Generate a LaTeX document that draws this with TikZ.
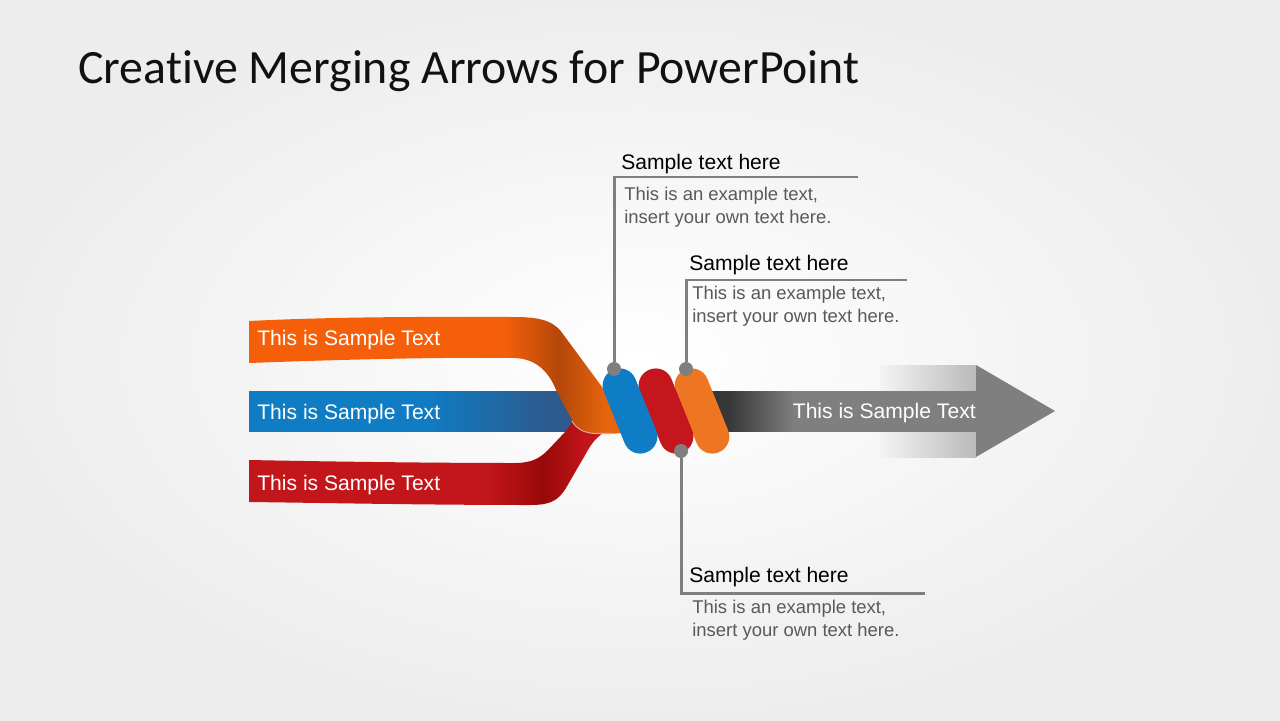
\documentclass[tikz,border=0pt]{standalone}
\usepackage{fontspec}
\setmainfont{Liberation Sans}
\newfontfamily\titlefont[Ligatures=NoCommon]{Carlito}
\usetikzlibrary{shapes.geometric, arrows}

\definecolor{oBand}{HTML}{F55F0A}
\definecolor{oDark}{HTML}{B4470A}
\definecolor{oMid}{HTML}{E5640D}
\definecolor{bBand}{HTML}{0F7CC4}
\definecolor{bDark}{HTML}{2D5A8C}
\definecolor{rBand}{HTML}{C3161A}
\definecolor{rDark}{HTML}{980909}
\definecolor{pillBlue}{HTML}{0E7DC6}
\definecolor{pillRed}{HTML}{C4161C}
\definecolor{pillOrange}{HTML}{EE7623}
\definecolor{arrowGray}{HTML}{7F7F7F}
\definecolor{arrowDark}{HTML}{363636}
\definecolor{wingLight}{HTML}{F4F4F4}
\definecolor{wingGray}{HTML}{BABABA}
\definecolor{lineGray}{HTML}{7F7F7F}
\definecolor{bodyGray}{HTML}{595959}
\definecolor{titleBlack}{HTML}{111111}
\definecolor{edgePink}{HTML}{E7A49A}

\pgfdeclarehorizontalshading{orangeribbon}{100bp}{color(0bp)=(oBand); color(25bp)=(oBand); color(58bp)=(oBand); color(65bp)=(oDark); color(71bp)=(oMid); color(100bp)=(oMid)}
\pgfdeclarehorizontalshading{blueribbon}{100bp}{color(0bp)=(bBand); color(25bp)=(bBand); color(50bp)=(bBand); color(68bp)=(bDark); color(100bp)=(bDark)}
\pgfdeclarehorizontalshading{redribbon}{100bp}{color(0bp)=(rBand); color(25bp)=(rBand); color(58bp)=(rBand); color(66bp)=(rDark); color(72bp)=(rBand); color(100bp)=(rBand)}
\pgfdeclarehorizontalshading{grayshaft}{100bp}{color(0bp)=(arrowDark); color(25bp)=(arrowDark); color(30bp)=(arrowDark); color(42bp)=(arrowGray); color(100bp)=(arrowGray)}
\pgfdeclarehorizontalshading{grayfade}{100bp}{color(0bp)=(wingLight); color(25bp)=(wingLight); color(75bp)=(wingGray); color(100bp)=(wingGray)}

\tikzstyle{bandtext} = [text=white, inner sep=0pt, anchor=base west, font=\fontsize{12}{14}\selectfont]
\tikzstyle{pill} = [rectangle, rounded corners=0.335cm, minimum width=0.68cm, minimum height=1.78cm, inner sep=0pt, rotate=22]
\tikzstyle{dot} = [circle, fill=lineGray, minimum size=0.28cm, inner sep=0pt]
\tikzstyle{callline} = [draw=lineGray, line width=1.7pt]
\tikzstyle{headtext} = [text=black, inner sep=0pt, anchor=base west, font=\fontsize{12}{14}\selectfont]
\tikzstyle{bodytext} = [text=bodyGray, inner sep=0pt, anchor=north west, align=left, font=\fontsize{10.5}{13.2}\selectfont]

\begin{document}
\begin{tikzpicture}[x=0.02cm, y=-0.02cm]
\useasboundingbox (0,0) rectangle (1280,720);
\shade[inner color=white, outer color=gray!14] (0,0) rectangle (1280,720);

\node (title) [anchor=base west, inner sep=0pt, text=titleBlack, font=\titlefont\fontsize{27.2}{32}\selectfont] at (78,83) {Creative Merging Arrows for PowerPoint};

%%% ribbons %%%%%%%%%%%%%%%%%%%%%%%
\shade[shading=blueribbon] (249,391) rectangle (600,431);
\shade[shading=redribbon] (249,460) .. controls (350,462) and (450,463) .. (515,463) .. controls (532,463) and (540,458) .. (548,450) -- (565,432) -- (585,405) -- (608,405) -- (603,433) .. controls (596,438) and (592,443) .. (588,450) -- (566,488) .. controls (558,501) and (550,505) .. (530,505) .. controls (430,505) and (330,503) .. (249,502) -- cycle;
\shade[shading=orangeribbon] (249,321) .. controls (350,316) and (450,317) .. (520,317) .. controls (540,318) and (550,320) .. (560,330) -- (636,433) -- (594,434) .. controls (582,432) and (577,428) .. (572,420) -- (556,390) .. controls (548,370) and (535,359) .. (515,358) .. controls (430,357) and (330,360) .. (249,363) -- cycle;
\draw[edgePink, line width=0.6pt] (572,421) .. controls (577,429) and (582,432) .. (594,433.5) -- (612,433.5);

%%% gray arrow %%%%%%%%%%%%%%%%%%%%%
\shade[shading=grayfade] (880,365) rectangle (976,391);
\shade[shading=grayfade] (880,431) rectangle (976,457);
\shade[shading=grayshaft] (700,391) rectangle (976,431);
\fill[arrowGray] (976,365) -- (1055,411) -- (976,457) -- cycle;

%%% pills %%%%%%%%%%%%%%%%%%%%%%%%%%
\node (pOrange) [pill, fill=pillOrange] at (702,411) {};
\node (pRed) [pill, fill=pillRed] at (666,411) {};
\node (pBlue) [pill, fill=pillBlue] at (630,411) {};

%%% labels %%%%%%%%%%%%%%%%%%%%%%%%%
\node (tOrange) [bandtext] at (257,345) {This is Sample Text};
\node (tBlue) [bandtext] at (257,419) {This is Sample Text};
\node (tRed) [bandtext] at (257,490) {This is Sample Text};
\node (tArrow) [bandtext, anchor=base east] at (976,418) {This is Sample Text};

%%% callouts %%%%%%%%%%%%%%%%%%%%%%%
\node (dTopA) [dot] at (614,369) {};
\node (dTopB) [dot] at (686,369) {};
\node (dBot) [dot] at (681,451) {};
\coordinate (cA) at (614,177);
\coordinate (eA) at (858,177);
\coordinate (cB) at (686,280);
\coordinate (eB) at (907,280);
\coordinate (cC) at (681,593);
\coordinate (eC) at (925,593);
\draw [callline] (dTopA) -- (cA) -- (eA);
\draw [callline] (dTopB) -- (cB) -- (eB);
\draw [callline] (dBot) -- (cC) -- (eC);

\node (hA) [headtext] at (621,169) {Sample text here};
\node (bA) [bodytext] at (624,186.5) {This is an example text,\\insert your own text here.};
\node (hB) [headtext] at (689,270) {Sample text here};
\node (bB) [bodytext] at (692,285.5) {This is an example text,\\insert your own text here.};
\node (hC) [headtext] at (689,582) {Sample text here};
\node (bC) [bodytext] at (692,599.5) {This is an example text,\\insert your own text here.};
\end{tikzpicture}
\end{document}
